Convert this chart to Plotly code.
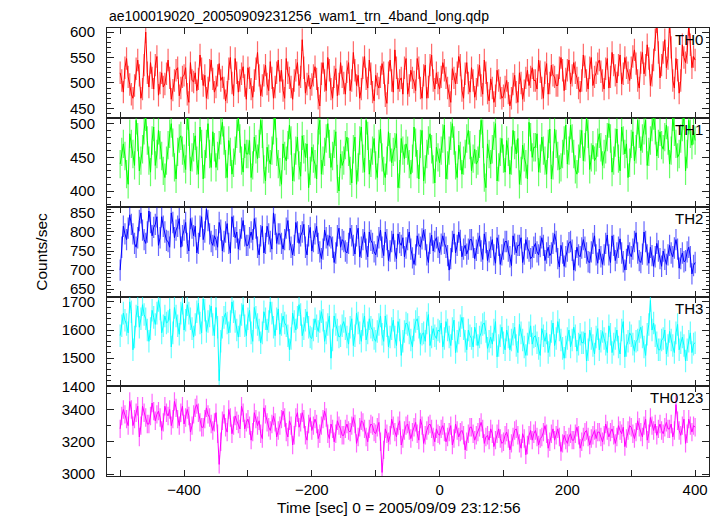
import plotly.graph_objects as go
from plotly.subplots import make_subplots

# time grid (sec from 2005/09/09 23:12:56), 2.5 s sampling of the curve
TIME_START = -500
TIME_STEP = 2.5

TH0 = [
    520, 505, 482, 530, 548, 512, 497, 478, 470, 495, 528, 545, 515, 470, 488, 535, 600, 520, 492, 540,
    510, 488, 535, 552, 476, 500, 520, 492, 498, 518, 545, 510, 468, 486, 505, 525, 530, 475, 490, 512,
    515, 530, 478, 462, 540, 505, 502, 520, 485, 508, 555, 528, 495, 515, 470, 490, 525, 545, 508, 482,
    492, 515, 538, 505, 512, 490, 465, 482, 528, 550, 500, 475, 548, 520, 482, 505, 518, 532, 495, 468,
    530, 510, 488, 472, 505, 528, 560, 515, 475, 495, 515, 535, 498, 485, 542, 510, 470, 492, 520, 545,
    503, 525, 485, 470, 548, 520, 510, 492, 468, 505, 525, 540, 495, 512, 585, 530, 480, 498, 515, 488,
    497, 515, 532, 508, 470, 455, 518, 540, 505, 485, 550, 525, 488, 470, 512, 528, 475, 498, 540, 512,
    500, 478, 522, 540, 485, 505, 560, 525, 495, 515, 470, 488, 530, 552, 508, 490, 545, 518, 482, 465,
    515, 498, 490, 512, 538, 520, 475, 460, 520, 545, 505, 482, 565, 530, 488, 505, 510, 478, 530, 548,
    478, 495, 525, 510, 502, 485, 548, 530, 490, 470, 515, 535, 470, 492, 535, 555, 505, 488, 520, 500,
    488, 512, 540, 525, 510, 490, 475, 462, 528, 510, 498, 520, 552, 535, 485, 470, 518, 540, 500, 482,
    530, 505, 472, 488, 515, 535, 495, 478, 545, 520, 480, 465, 508, 490, 462, 475, 525, 505, 490, 470,
    475, 492, 505, 480, 455, 470, 498, 515, 482, 462, 520, 500, 468, 485, 510, 525, 495, 512, 530, 505,
    505, 488, 545, 522, 490, 470, 520, 538, 478, 500, 535, 515, 512, 495, 495, 530, 550, 525, 485, 508,
    525, 545, 498, 515, 540, 520, 510, 490, 482, 505, 555, 532, 505, 488, 530, 550, 495, 512, 520, 538,
    545, 522, 505, 488, 528, 548, 490, 512, 560, 535, 515, 500, 535, 555, 498, 518, 550, 530, 520, 505,
    530, 552, 565, 538, 505, 490, 540, 560, 518, 535, 575, 548, 495, 515, 545, 585, 620, 560, 510, 535,
    560, 585, 530, 548, 620, 570, 505, 490, 548, 525, 480, 505, 575, 550, 540, 560, 615, 575, 530, 552,
    545,
]
TH1 = [
    440, 458, 470, 452, 425, 410, 485, 470, 455, 438, 505, 480, 430, 445, 462, 490, 510, 475, 445, 428,
    475, 495, 438, 455, 490, 468, 452, 430, 420, 445, 468, 485, 500, 472, 435, 418, 458, 478, 482, 460,
    448, 432, 512, 488, 430, 450, 465, 482, 445, 425, 495, 470, 418, 440, 470, 500, 455, 435, 488, 465,
    435, 452, 468, 490, 502, 475, 440, 420, 475, 458, 425, 442, 460, 485, 510, 478, 445, 428, 470, 455,
    455, 475, 420, 438, 480, 462, 448, 470, 505, 485, 432, 415, 465, 448, 440, 460, 490, 512, 458, 440,
    428, 410, 470, 452, 445, 468, 498, 475, 415, 435, 460, 480, 438, 422, 482, 462, 450, 470, 405, 430,
    465, 448, 440, 418, 490, 505, 425, 445, 458, 478, 500, 470, 435, 452, 470, 488, 418, 400, 455, 438,
    445, 468, 480, 458, 430, 412, 462, 480, 410, 435, 475, 495, 448, 428, 505, 482, 425, 442, 460, 478,
    438, 420, 470, 492, 450, 430, 420, 445, 488, 465, 442, 458, 465, 485, 405, 425, 478, 460, 448, 470,
    460, 440, 425, 448, 495, 472, 440, 418, 470, 490, 415, 432, 455, 475, 485, 462, 432, 412, 465, 450,
    442, 460, 478, 498, 418, 438, 460, 482, 500, 475, 438, 420, 468, 452, 425, 445, 455, 478, 490, 468,
    430, 448, 462, 440, 445, 470, 505, 485, 420, 405, 470, 455, 440, 462, 482, 500, 415, 435, 458, 478,
    448, 428, 475, 458, 425, 445, 490, 468, 455, 478, 410, 430, 468, 450, 440, 418, 502, 480, 450, 465,
    465, 485, 428, 448, 480, 460, 445, 425, 470, 492, 418, 438, 492, 470, 452, 432, 435, 455, 475, 498,
    440, 460, 498, 478, 455, 432, 425, 448, 470, 490, 445, 465, 510, 485, 432, 450, 468, 445, 450, 472,
    485, 465, 438, 455, 462, 480, 500, 478, 428, 445, 472, 492, 448, 430, 495, 475, 455, 470, 420, 442,
    470, 488, 445, 462, 505, 485, 460, 478, 490, 505, 438, 458, 475, 495, 512, 490, 452, 470, 488, 468,
    462, 480, 498, 475, 440, 460, 510, 488, 470, 450, 455, 478, 495, 512, 430, 455, 505, 485, 468, 490,
    475,
]
TH2 = [
    700, 760, 815, 795, 780, 810, 845, 820, 795, 770, 760, 785, 830, 850, 805, 780, 770, 800, 855, 825,
    790, 812, 820, 840, 765, 785, 840, 815, 800, 778, 775, 760, 850, 825, 785, 805, 815, 835, 760, 790,
    805, 825, 770, 750, 835, 810, 790, 815, 745, 770, 815, 840, 780, 800, 860, 830, 795, 775, 765, 790,
    780, 760, 825, 805, 750, 775, 800, 822, 770, 745, 840, 815, 785, 800, 755, 780, 810, 830, 790, 765,
    765, 785, 800, 780, 835, 810, 760, 740, 790, 815, 745, 770, 815, 795, 775, 755, 850, 820, 770, 795,
    795, 770, 755, 780, 810, 830, 780, 760, 740, 765, 825, 800, 770, 790, 800, 820, 760, 740, 790, 812,
    750, 775, 795, 815, 770, 748, 730, 755, 805, 785, 765, 790, 785, 760, 720, 745, 790, 810, 760, 780,
    775, 750, 745, 770, 810, 790, 765, 742, 790, 810, 735, 760, 780, 800, 755, 735, 800, 778, 770, 748,
    740, 762, 785, 805, 760, 738, 800, 780, 725, 750, 775, 795, 750, 730, 795, 772, 765, 785, 735, 758,
    780, 800, 755, 732, 715, 740, 790, 768, 760, 782, 805, 780, 740, 720, 770, 792, 750, 775, 785, 760,
    745, 768, 790, 770, 760, 738, 700, 730, 775, 795, 745, 765, 800, 778, 735, 755, 765, 742, 755, 780,
    780, 760, 730, 752, 770, 790, 750, 728, 795, 772, 725, 748, 760, 780, 740, 718, 785, 765, 715, 740,
    755, 775, 775, 750, 735, 712, 790, 768, 745, 765, 765, 785, 720, 742, 780, 758, 750, 730, 735, 760,
    770, 748, 740, 762, 785, 765, 725, 745, 760, 738, 745, 770, 795, 775, 730, 708, 765, 745, 710, 735,
    750, 772, 775, 752, 700, 725, 760, 740, 735, 758, 780, 760, 745, 722, 720, 748, 770, 790, 740, 718,
    755, 735, 715, 740, 770, 792, 740, 720, 790, 765, 725, 745, 760, 782, 745, 722, 700, 728, 765, 745,
    735, 755, 775, 798, 745, 725, 720, 742, 800, 775, 740, 718, 760, 738, 710, 735, 770, 750, 730, 710,
    750, 728, 715, 740, 765, 745, 735, 758, 780, 755, 705, 730, 745, 722, 725, 748, 760, 735, 690, 712,
    720,
]
TH3 = [
    1580, 1615, 1660, 1635, 1620, 1590, 1700, 1665, 1530, 1575, 1650, 1685, 1610, 1640, 1690, 1655, 1640, 1600, 1560, 1605,
    1670, 1645, 1620, 1660, 1705, 1675, 1590, 1615, 1650, 1625, 1630, 1675, 1540, 1590, 1680, 1650, 1615, 1585, 1660, 1695,
    1600, 1635, 1690, 1660, 1640, 1605, 1575, 1620, 1665, 1695, 1625, 1590, 1710, 1670, 1595, 1630, 1650, 1685, 1620, 1580,
    1680, 1610, 1420, 1560, 1610, 1645, 1660, 1625, 1590, 1630, 1700, 1665, 1630, 1600, 1575, 1615, 1655, 1690, 1615, 1580,
    1640, 1670, 1590, 1560, 1680, 1645, 1620, 1600, 1555, 1590, 1665, 1640, 1600, 1630, 1700, 1660, 1610, 1580, 1640, 1675,
    1585, 1620, 1650, 1625, 1615, 1580, 1530, 1570, 1660, 1630, 1600, 1645, 1690, 1655, 1580, 1605, 1635, 1665, 1610, 1575,
    1570, 1600, 1640, 1615, 1595, 1630, 1665, 1635, 1560, 1590, 1620, 1650, 1500, 1565, 1650, 1620, 1600, 1575, 1580, 1615,
    1630, 1605, 1575, 1550, 1610, 1640, 1545, 1580, 1660, 1625, 1590, 1560, 1620, 1650, 1565, 1590, 1640, 1610, 1600, 1570,
    1560, 1595, 1620, 1650, 1585, 1560, 1650, 1615, 1540, 1575, 1605, 1635, 1575, 1545, 1630, 1600, 1510, 1560, 1595, 1625,
    1620, 1590, 1565, 1540, 1600, 1630, 1640, 1610, 1550, 1585, 1590, 1560, 1625, 1655, 1545, 1575, 1605, 1580, 1570, 1600,
    1595, 1625, 1540, 1570, 1630, 1600, 1575, 1545, 1605, 1635, 1520, 1560, 1590, 1615, 1645, 1605, 1560, 1530, 1600, 1580,
    1570, 1540, 1610, 1585, 1545, 1575, 1590, 1620, 1625, 1595, 1535, 1560, 1575, 1550, 1600, 1630, 1505, 1545, 1580, 1610,
    1555, 1530, 1600, 1575, 1530, 1565, 1585, 1610, 1545, 1520, 1620, 1590, 1565, 1540, 1510, 1550, 1590, 1615, 1550, 1575,
    1580, 1555, 1535, 1510, 1605, 1580, 1560, 1590, 1520, 1545, 1595, 1625, 1545, 1570, 1630, 1600, 1565, 1535, 1500, 1540,
    1570, 1600, 1540, 1565, 1610, 1580, 1525, 1550, 1585, 1555, 1555, 1590, 1490, 1530, 1600, 1570, 1545, 1515, 1575, 1605,
    1530, 1560, 1595, 1570, 1550, 1520, 1615, 1585, 1520, 1550, 1570, 1600, 1540, 1515, 1600, 1630, 1505, 1545, 1560, 1590,
    1580, 1550, 1525, 1560, 1565, 1595, 1610, 1575, 1540, 1510, 1585, 1620, 1705, 1600, 1625, 1580, 1555, 1530, 1530, 1565,
    1570, 1600, 1515, 1545, 1595, 1565, 1545, 1520, 1590, 1620, 1530, 1555, 1575, 1545, 1490, 1530, 1560, 1590, 1520, 1550,
    1555,
]
TH0123 = [
    3280, 3360, 3400, 3370, 3340, 3300, 3450, 3400, 3300, 3340, 3380, 3420, 3230, 3300, 3420, 3380, 3350, 3310, 3310, 3360,
    3440, 3390, 3330, 3370, 3390, 3350, 3270, 3320, 3420, 3380, 3360, 3400, 3300, 3340, 3450, 3410, 3340, 3300, 3380, 3420,
    3310, 3350, 3400, 3360, 3260, 3300, 3370, 3410, 3430, 3380, 3320, 3290, 3290, 3340, 3410, 3370, 3350, 3310, 3270, 3320,
    3380, 3250, 3060, 3200, 3330, 3370, 3290, 3260, 3400, 3350, 3250, 3300, 3360, 3330, 3310, 3280, 3420, 3380, 3280, 3320,
    3340, 3300, 3210, 3260, 3380, 3340, 3300, 3330, 3250, 3220, 3410, 3370, 3320, 3290, 3270, 3310, 3360, 3320, 3230, 3270,
    3300, 3340, 3390, 3350, 3260, 3230, 3330, 3300, 3180, 3240, 3350, 3380, 3290, 3320, 3380, 3340, 3240, 3210, 3310, 3350,
    3270, 3300, 3340, 3310, 3220, 3250, 3300, 3340, 3390, 3350, 3250, 3220, 3310, 3280, 3200, 3250, 3330, 3300, 3280, 3240,
    3240, 3280, 3310, 3270, 3260, 3300, 3350, 3310, 3190, 3230, 3290, 3330, 3320, 3280, 3230, 3200, 3280, 3310, 3300, 3260,
    3250, 3290, 3320, 3200, 3010, 3150, 3280, 3250, 3200, 3240, 3340, 3300, 3260, 3230, 3300, 3330, 3180, 3220, 3270, 3300,
    3310, 3270, 3220, 3260, 3290, 3320, 3250, 3210, 3340, 3300, 3190, 3240, 3270, 3300, 3310, 3280, 3230, 3200, 3280, 3250,
    3240, 3280, 3300, 3260, 3200, 3230, 3260, 3300, 3180, 3220, 3310, 3270, 3230, 3260, 3270, 3240, 3150, 3200, 3250, 3290,
    3290, 3250, 3210, 3240, 3260, 3290, 3320, 3280, 3190, 3230, 3240, 3210, 3280, 3250, 3170, 3210, 3250, 3280, 3220, 3190,
    3200, 3240, 3260, 3220, 3150, 3190, 3230, 3270, 3280, 3240, 3190, 3160, 3250, 3220, 3120, 3180, 3240, 3270, 3210, 3250,
    3270, 3230, 3180, 3220, 3230, 3260, 3300, 3250, 3160, 3200, 3250, 3280, 3210, 3240, 3280, 3230, 3140, 3190, 3240, 3210,
    3190, 3230, 3250, 3210, 3210, 3250, 3290, 3240, 3160, 3200, 3230, 3260, 3270, 3230, 3180, 3220, 3240, 3270, 3220, 3260,
    3260, 3230, 3200, 3240, 3310, 3270, 3230, 3260, 3280, 3240, 3190, 3230, 3300, 3270, 3250, 3290, 3170, 3220, 3270, 3300,
    3290, 3250, 3220, 3260, 3330, 3290, 3260, 3230, 3300, 3340, 3210, 3250, 3350, 3300, 3270, 3310, 3240, 3280, 3310, 3270,
    3250, 3290, 3320, 3280, 3280, 3310, 3230, 3270, 3430, 3330, 3270, 3240, 3300, 3340, 3190, 3250, 3340, 3300, 3260, 3300,
    3290,
]

LABELS = ["TH0", "TH1", "TH2", "TH3", "TH0123"]
ERRORS = [22, 21, 28, 40, 57]
Y_RANGES = [[432, 608], [376, 509], [630, 865], [1400, 1718], [2988, 3543]]
Y_TICKS = [[450, 500, 550, 600], [400, 450, 500], [650, 700, 750, 800, 850],
           [1400, 1500, 1600, 1700], [3000, 3200, 3400]]
Y_MINOR = [10, 10, 10, 20, 100]
X_TICKS = [-500, -400, -300, -200, -100, 0, 100, 200, 300, 400]
X_TICKTEXT = ["", "\u2212400", "", "\u2212200", "", "0", "", "200", "", "400"]

SERIES = [TH0, TH1, TH2, TH3, TH0123]
TIME = [TIME_START + TIME_STEP * i for i in range(len(TH0))]

COLORS = ["#ff0000", "#00ff00", "#0000ff", "#00ffff", "#ff00ff"]
ERR_COLORS = ["rgba(255,0,0,0.6)", "rgba(0,255,0,0.6)", "rgba(0,0,255,0.6)",
              "rgba(0,255,255,0.6)", "rgba(255,0,255,0.6)"]

for s in SERIES:
    assert len(s) == len(TIME), len(s)

FONT = "Liberation Sans, Arial, Helvetica, sans-serif"
FS_TICK = 15
FS_LAB = 15
FS_TITLE = 14
FS_AXT = 15.5

fig = make_subplots(rows=5, cols=1, shared_xaxes=True, vertical_spacing=0)

for i, (ys, lab) in enumerate(zip(SERIES, LABELS)):
    r = i + 1
    fig.add_trace(go.Scatter(
        x=TIME, y=ys, mode="lines", name=lab,
        line=dict(color=COLORS[i], width=1),
        error_y=dict(type="constant", value=ERRORS[i], color=ERR_COLORS[i],
                     thickness=1.2, width=0),
        showlegend=False,
    ), row=r, col=1)
    fig.update_yaxes(
        range=Y_RANGES[i], tickvals=Y_TICKS[i], ticks="inside", ticklen=7,
        tickwidth=1, tickcolor="#222", showline=True, linecolor="#222",
        linewidth=1, mirror="ticks", showgrid=False, zeroline=False,
        ticklabelstandoff=8,
        minor=dict(dtick=Y_MINOR[i], ticks="inside", ticklen=3.5,
                   tickcolor="#222", showgrid=False),
        tickfont=dict(family=FONT, size=FS_TICK, color="black"),
        row=r, col=1)
    fig.update_xaxes(
        range=[-520.6, 421.7], tickvals=X_TICKS, ticktext=X_TICKTEXT,
        ticks="inside", ticklen=6, tickwidth=1, tickcolor="#222",
        showline=True, linecolor="#222", linewidth=1, mirror="ticks",
        showgrid=False, zeroline=False,
        tickfont=dict(family=FONT, size=FS_TICK, color="black"),
        row=r, col=1)
    fig.add_annotation(
        text=lab, xref="x domain" if r == 1 else "x%d domain" % r,
        yref="y domain" if r == 1 else "y%d domain" % r,
        x=1, y=1, xanchor="right", yanchor="top", xshift=-4, yshift=-1,
        showarrow=False, font=dict(family=FONT, size=FS_LAB, color="black"))

fig.add_annotation(
    text="ae100019020_20050909231256_wam1_trn_4band_long.qdp",
    xref="paper", yref="paper", x=0, y=1, xanchor="left", yanchor="bottom",
    yshift=2, showarrow=False, font=dict(family=FONT, size=FS_TITLE, color="black"))
fig.add_annotation(
    text="Counts/sec", xref="paper", yref="paper", x=-0.11, y=0.5,
    xanchor="center", yanchor="middle", textangle=-90, showarrow=False,
    font=dict(family=FONT, size=FS_AXT, color="black"))
fig.add_annotation(
    text="Time [sec] 0 = 2005/09/09 23:12:56", xref="paper", yref="paper",
    x=0.485, y=0, xanchor="center", yanchor="top", yshift=-21,
    showarrow=False, font=dict(family=FONT, size=FS_AXT, color="black"))

fig.update_layout(
    width=722, height=516,
    margin=dict(l=107, r=13, t=28, b=40),
    plot_bgcolor="white", paper_bgcolor="white",
    font=dict(family=FONT, size=FS_TICK, color="black"),
)

fig.write_html("out.html", config={"displayModeBar": False},
               post_script="document.body.style.margin='0';")
